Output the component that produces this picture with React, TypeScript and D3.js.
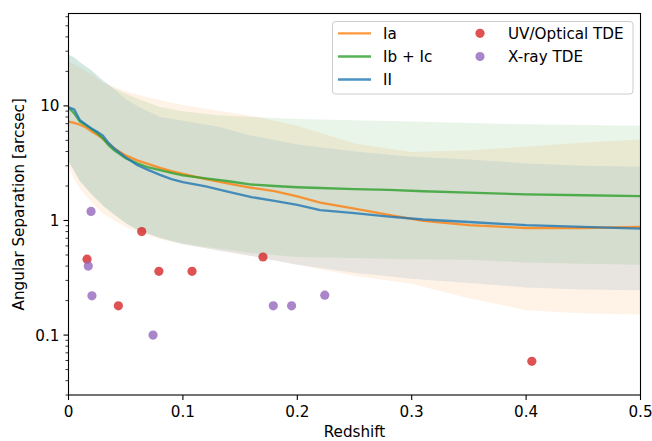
import React from "react";
import * as d3 from "d3";

// redshift grid for the median curves
const lineZ = [0, 0.005, 0.01, 0.015, 0.02, 0.025, 0.03, 0.035, 0.04, 0.05, 0.06, 0.07, 0.08, 0.09, 0.1, 0.12, 0.14, 0.16, 0.18, 0.2, 0.22, 0.25, 0.28, 0.31, 0.35, 0.4, 0.45, 0.5];
const iaMedian = [7.3, 7.1, 6.85, 6.5, 6.0, 5.6, 5.2, 4.65, 4.25, 3.7, 3.35, 3.1, 2.88, 2.7, 2.55, 2.3, 2.1, 1.93, 1.8, 1.62, 1.43, 1.27, 1.12, 0.99, 0.91, 0.86, 0.86, 0.88];
const ibcMedian = [9.7, 8.6, 7.3, 6.8, 6.3, 5.8, 5.2, 4.55, 4.1, 3.5, 3.15, 2.9, 2.75, 2.6, 2.47, 2.33, 2.2, 2.06, 2.0, 1.95, 1.92, 1.88, 1.85, 1.8, 1.75, 1.69, 1.66, 1.63];
const iiMedian = [9.7, 9.3, 7.5, 6.9, 6.35, 5.95, 5.5, 4.75, 4.25, 3.55, 3.05, 2.75, 2.5, 2.3, 2.16, 1.98, 1.78, 1.6, 1.48, 1.37, 1.23, 1.16, 1.08, 1.02, 0.97, 0.91, 0.88, 0.85];

// redshift grid for the spread bands
const bandZ = [0, 0.005, 0.01, 0.02, 0.03, 0.04, 0.05, 0.06, 0.08, 0.1, 0.13, 0.16, 0.2, 0.25, 0.3, 0.35, 0.4, 0.45, 0.5];
const iaLow = [3.0, 2.3, 1.9, 1.45, 1.15, 1.0, 0.88, 0.8, 0.69, 0.62, 0.55, 0.49, 0.41, 0.33, 0.28, 0.21, 0.165, 0.155, 0.151];
const iaHigh = [24, 23, 21.5, 19, 16, 14.6, 13.4, 12.6, 11.2, 10.2, 9.1, 8.2, 6.7, 4.7, 3.95, 4.1, 4.4, 4.8, 5.1];
const ibcLow = [3.3, 2.7, 2.2, 1.7, 1.35, 1.12, 0.95, 0.83, 0.71, 0.63, 0.57, 0.52, 0.48, 0.47, 0.46, 0.455, 0.43, 0.42, 0.41];
const ibcHigh = [28, 26.5, 24, 20.5, 16.5, 14.2, 12.8, 11.6, 9.8, 9.0, 8.3, 8.0, 7.7, 7.5, 7.3, 7.1, 6.9, 6.8, 6.7];
const iiLow = [3.3, 2.7, 2.2, 1.7, 1.35, 1.12, 0.95, 0.83, 0.7, 0.62, 0.55, 0.49, 0.41, 0.35, 0.31, 0.285, 0.26, 0.25, 0.246];
const iiHigh = [28, 26.5, 24, 20.5, 16.8, 14.0, 11.5, 10.0, 8.0, 7.4, 6.6, 5.5, 4.6, 4.0, 3.6, 3.4, 3.15, 3.0, 2.94];

// tidal disruption events
const uvZ = [0.0162, 0.064, 0.0436, 0.079, 0.108, 0.17, 0.405];
const uvSep = [0.46, 0.8, 0.18, 0.36, 0.36, 0.48, 0.059];
const xrayZ = [0.0197, 0.0173, 0.0205, 0.0739, 0.179, 0.195, 0.224];
const xraySep = [1.2, 0.4, 0.22, 0.1, 0.18, 0.18, 0.223];

const xTicks = [0, 0.1, 0.2, 0.3, 0.4, 0.5];
const xTickLabels = ["0", "0.1", "0.2", "0.3", "0.4", "0.5"];
const yMajor = [0.1, 1, 10];
const yMajorLabels = ["0.1", "1", "10"];

const types = [
  { name: "Ia", color: "#ff7f0e", med: iaMedian, lo: iaLow, hi: iaHigh },
  { name: "Ib + Ic", color: "#2ca02c", med: ibcMedian, lo: ibcLow, hi: ibcHigh },
  { name: "II", color: "#1f77b4", med: iiMedian, lo: iiLow, hi: iiHigh },
];
const tdes = [
  { name: "UV/Optical TDE", color: "#d62728", z: uvZ, v: uvSep },
  { name: "X-ray TDE", color: "#9467bd", z: xrayZ, v: xraySep },
];

const W = 652, H = 441;
const left = 68.5, right = 640.5, top = 13.5, bottom = 395;
const font = "DejaVu Sans, sans-serif";
const fs = 15.2;

export default function App() {
  const x = d3.scaleLinear().domain([0, 0.5]).range([left, right]);
  const y = d3.scaleLog().domain([0.03, 64]).range([bottom, top]);

  const area = (lo: number[], hi: number[]) =>
    d3.area<number>()
      .x((d, i) => x(bandZ[i]))
      .y0((d, i) => y(lo[i]))
      .y1((d, i) => y(hi[i]))(bandZ) || "";
  const line = (v: number[]) =>
    d3.line<number>()
      .x((d, i) => x(lineZ[i]))
      .y((d, i) => y(v[i]))(lineZ) || "";

  const minor = y.ticks().filter((t) => !yMajor.some((m) => Math.abs(m - t) < 1e-9));

  const legX = 332.5, legY = 21.5;
  const rows = [33.3, 56.5, 79.5];

  return (
    <svg width={W} height={H} style={{ position: "absolute", left: 0, top: 0 }} fontFamily={font}>
      <rect width={W} height={H} fill="#fff" />
      <defs>
        <clipPath id="plot">
          <rect x={left} y={top} width={right - left} height={bottom - top} />
        </clipPath>
      </defs>
      <g clipPath="url(#plot)">
        {types.map((t) => (
          <path key={"b" + t.name} d={area(t.lo, t.hi)} fill={t.color} fillOpacity={0.1} stroke="none" />
        ))}
        {types.map((t) => (
          <path key={"l" + t.name} d={line(t.med)} fill="none" stroke={t.color} strokeOpacity={0.8} strokeWidth={2.3} />
        ))}
        {tdes.map((s) =>
          s.z.map((z, i) => (
            <circle key={s.name + i} cx={x(z)} cy={y(s.v[i])} r={4.6} fill={s.color} fillOpacity={0.8} />
          ))
        )}
      </g>

      {/* frame */}
      <rect x={left} y={top} width={right - left} height={bottom - top} fill="none" stroke="#000" strokeWidth={1.1} />

      {/* x axis */}
      {xTicks.map((t, i) => (
        <g key={"x" + t}>
          <line x1={x(t)} x2={x(t)} y1={bottom} y2={bottom + 5} stroke="#000" strokeWidth={1.1} />
          <text x={x(t)} y={bottom + 22} textAnchor="middle" fontSize={fs} fill="#000">{xTickLabels[i]}</text>
        </g>
      ))}
      <text x={(left + right) / 2} y={437} textAnchor="middle" fontSize={fs} fill="#000">Redshift</text>

      {/* y axis */}
      {minor.map((t) => (
        <line key={"m" + t} x1={left - 3} x2={left} y1={y(t)} y2={y(t)} stroke="#000" strokeWidth={0.8} />
      ))}
      {yMajor.map((t, i) => (
        <g key={"y" + t}>
          <line x1={left - 5} x2={left} y1={y(t)} y2={y(t)} stroke="#000" strokeWidth={1.1} />
          <text x={left - 9} y={y(t)} dy="0.36em" textAnchor="end" fontSize={fs} fill="#000">{yMajorLabels[i]}</text>
        </g>
      ))}
      <text transform={`translate(24,${(top + bottom) / 2}) rotate(-90)`} textAnchor="middle" fontSize={fs} fill="#000">
        Angular Separation [arcsec]
      </text>

      {/* legend */}
      <rect x={legX} y={legY} width={300.5} height={72.5} rx={3} fill="#fff" fillOpacity={0.8} stroke="#cccccc" strokeWidth={1} />
      {types.map((t, i) => (
        <g key={"lg" + t.name}>
          <line x1={338} x2={371} y1={rows[i]} y2={rows[i]} stroke={t.color} strokeOpacity={0.8} strokeWidth={2.3} />
          <text x={383} y={rows[i]} dy="0.36em" fontSize={fs} fill="#000">{t.name}</text>
        </g>
      ))}
      {tdes.map((s, i) => (
        <g key={"lg" + s.name}>
          <circle cx={480} cy={rows[i]} r={4.6} fill={s.color} fillOpacity={0.8} />
          <text x={508} y={rows[i]} dy="0.36em" fontSize={fs} fill="#000">{s.name}</text>
        </g>
      ))}
    </svg>
  );
}
